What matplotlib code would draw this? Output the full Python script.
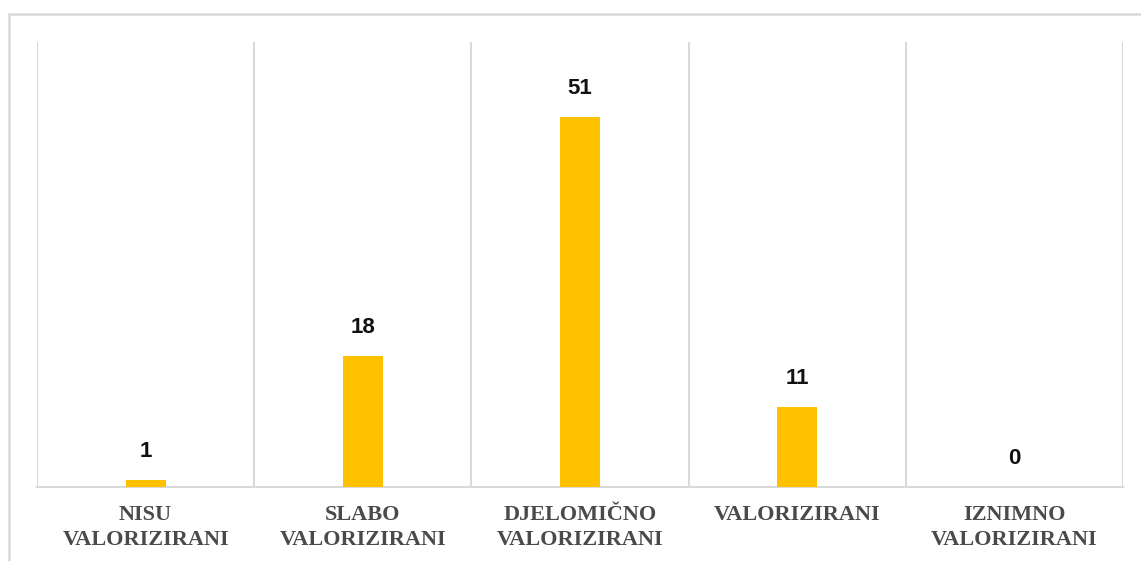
import matplotlib.pyplot as plt
from matplotlib.patches import Rectangle
import numpy as np

categories = ["NISU\nVALORIZIRANI", "SLABO\nVALORIZIRANI", "DJELOMIČNO\nVALORIZIRANI",
              "VALORIZIRANI", "IZNIMNO\nVALORIZIRANI"]
values = [1, 18, 51, 11, 0]

fig = plt.figure(figsize=(11.41, 5.61), dpi=100)
ax = fig.add_axes([37/1141, 74/561, (1123-37)/1141, (487-42)/561])

# outer chart frame
fig.patches.append(Rectangle((8.5/1141, -0.1), 1.2, (561-14)/561 + 0.1,
                             transform=fig.transFigure, fill=False,
                             edgecolor="#d9d9d9", linewidth=1.8))

x = np.arange(len(categories))
bars = ax.bar(x, values, width=0.185, color="#FFC000", zorder=3)

for xi, v in zip(x, values):
    ax.annotate(str(v), (xi, v), xytext=(0, 13), textcoords="offset points",
                ha="center", va="bottom", fontsize=16, fontweight="bold",
                color="#111111", family="Liberation Sans")

ax.set_xlim(-0.5, len(categories) - 0.5)
ax.set_ylim(0, 61.3)
ax.set_yticks([])
ax.set_xticks(x)
ax.set_xticklabels(categories, family="Liberation Serif", fontweight="bold",
                   fontsize=16, color="#4a4a4a", linespacing=1.3)
ax.tick_params(axis="x", length=0, pad=13)

# vertical separators between categories
for b in np.arange(-0.5, len(categories), 1.0):
    ax.axvline(b, color="#d9d9d9", linewidth=1.5, zorder=1)

for s in ["top", "left", "right"]:
    ax.spines[s].set_visible(False)
ax.spines["bottom"].set_color("#d9d9d9")
ax.spines["bottom"].set_linewidth(1.5)

fig.savefig("out.png", dpi=100)
